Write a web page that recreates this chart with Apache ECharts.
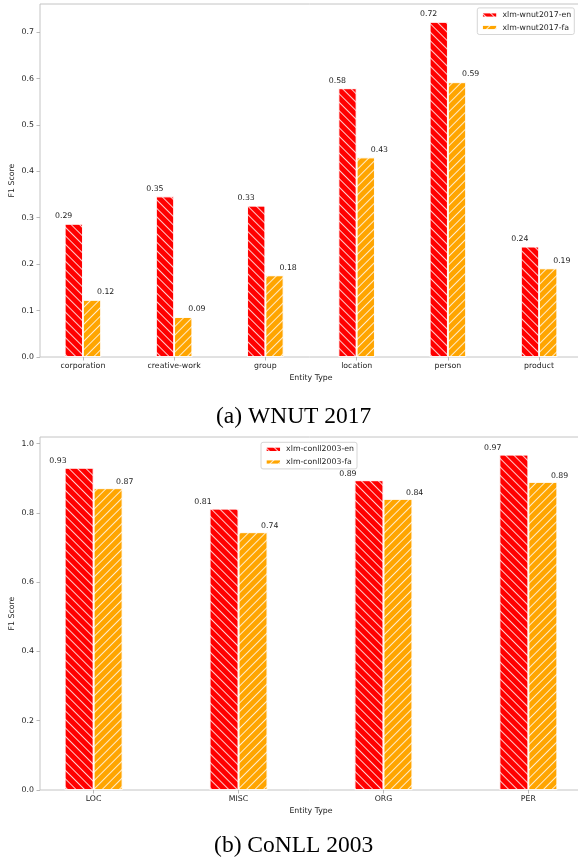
<!DOCTYPE html>
<html>
<head>
<meta charset="utf-8">
<script src="https://cdn.jsdelivr.net/npm/echarts@6/dist/echarts.min.js"></script>
<style>html,body{margin:0;padding:0;background:#fff;}#main{width:578px;height:861px;}</style>
</head>
<body>
<div id="main"></div>
<script>
// ---- DATA ----
const wnutCategories = ['corporation', 'creative-work', 'group', 'location', 'person', 'product'];
const wnutEn = [0.287, 0.346, 0.326, 0.579, 0.722, 0.238];
const wnutFa = [0.123, 0.086, 0.176, 0.430, 0.592, 0.191];
const wnutYTicks = [0.0, 0.1, 0.2, 0.3, 0.4, 0.5, 0.6, 0.7];

const conllCategories = ['LOC', 'MISC', 'ORG', 'PER'];
const conllEn = [0.930, 0.812, 0.894, 0.968];
const conllFa = [0.871, 0.744, 0.840, 0.889];
const conllYTicks = [0.0, 0.2, 0.4, 0.6, 0.8, 1.0];

const seriesNames = {
  wnutEn: 'xlm-wnut2017-en', wnutFa: 'xlm-wnut2017-fa',
  conllEn: 'xlm-conll2003-en', conllFa: 'xlm-conll2003-fa'
};
const captions = ['(a) WNUT 2017', '(b) CoNLL 2003'];

// ---- STYLE ----
const FONT = 'DejaVu Sans';
const FS = 7.8;
const TXT = '#1c1c1c';
const SPINE = '#c4c4c4';
const RED = '#ff0000';
const ORANGE = '#ffa500';

const hatchBack = { symbol: 'rect', symbolSize: 1, color: 'rgba(255,255,255,0.8)', dashArrayX: [1, 0], dashArrayY: [1, 4.2], rotation: Math.PI / 4 };
const hatchFwd  = { symbol: 'rect', symbolSize: 1, color: 'rgba(255,255,255,0.8)', dashArrayX: [1, 0], dashArrayY: [1, 4.2], rotation: -Math.PI / 4 };

const textBase = { fontFamily: FONT, fontSize: FS, color: TXT };

function xAxisFor(gridIndex, cats, min, max) {
  const idx = cats.map((c, i) => i);
  return {
    type: 'value', gridIndex, min, max,
    axisLine: { show: false, onZero: false },
    splitLine: { show: false },
    axisTick: { show: true, length: 3.5, lineStyle: { color: '#a8a8a8', width: 0.8 }, customValues: idx },
    axisLabel: { ...textBase, margin: 4.8, lineHeight: 9.1, customValues: idx, formatter: v => cats[Math.round(v)] },
    name: 'Entity Type', nameLocation: 'middle', nameGap: 16.6, nameMoveOverlap: false,
    nameTextStyle: { ...textBase, lineHeight: 9.1 }
  };
}
function yAxisFor(gridIndex, ticks, max) {
  return {
    type: 'value', gridIndex, min: 0, max,
    axisLine: { show: false, onZero: false },
    splitLine: { show: false },
    axisTick: { show: true, length: 3.5, lineStyle: { color: '#a8a8a8', width: 0.8 }, customValues: ticks },
    axisLabel: { ...textBase, margin: 6, customValues: ticks, formatter: v => v.toFixed(1) },
    name: 'F1 Score', nameLocation: 'middle', nameGap: 23, nameMoveOverlap: false,
    nameTextStyle: { ...textBase, lineHeight: 9.1 }
  };
}
function barSeries(name, vals, axisIdx, color, decal, labelPos, labelOffset) {
  return {
    type: 'bar', name, xAxisIndex: axisIdx, yAxisIndex: axisIdx,
    data: vals.map((v, i) => [i, v]),
    barWidth: '20%', barGap: '0%',
    itemStyle: { color, borderColor: 'rgba(255,255,255,0.9)', borderWidth: 0.8, decal },
    label: {
      show: true, position: labelPos, offset: labelOffset, align: 'center', verticalAlign: 'bottom',
      ...textBase, lineHeight: 9.1,
      formatter: p => p.value[1].toFixed(2)
    },
    emphasis: { disabled: true },
    animation: false
  };
}
function legendFor(names, left, top) {
  return {
    data: names, orient: 'vertical', left, top,
    padding: [2.5, 3, 2.5, 3.5],
    itemWidth: 15.6, itemHeight: 5.5, itemGap: 3.6, icon: 'rect',
    textStyle: { ...textBase, lineHeight: 9 },
    borderColor: '#cccccc', borderWidth: 0.8, borderRadius: 2,
    backgroundColor: 'rgba(255,255,255,0.8)',
    selectedMode: false
  };
}

const gridBase = { left: 40, width: 542, height: 353, show: true, borderColor: SPINE, borderWidth: 1, backgroundColor: 'transparent', containLabel: false, outerBoundsMode: 'none' };

const chart = echarts.init(document.getElementById('main'), null, { renderer: 'canvas', width: 578, height: 861 });
chart.setOption({
  animation: false,
  backgroundColor: '#ffffff',
  grid: [
    { ...gridBase, top: 4 },
    { ...gridBase, top: 437 }
  ],
  xAxis: [
    xAxisFor(0, wnutCategories, -0.47, 5.47),
    xAxisFor(1, conllCategories, -0.37, 3.37)
  ],
  yAxis: [
    yAxisFor(0, wnutYTicks, 0.7605),
    yAxisFor(1, conllYTicks, 1.0188)
  ],
  legend: [
    legendFor([seriesNames.wnutEn, seriesNames.wnutFa], 477.3, 7.9),
    legendFor([seriesNames.conllEn, seriesNames.conllFa], 261, 442.3)
  ],
  series: [
    barSeries(seriesNames.wnutEn, wnutEn, 0, RED, hatchBack, [-1, -3.2], [0, 0]),
    barSeries(seriesNames.wnutFa, wnutFa, 0, ORANGE, hatchFwd, ['100%', -3.2], [4.5, 0]),
    barSeries(seriesNames.conllEn, conllEn, 1, RED, hatchBack, [-6.6, -1.8], [0, 0]),
    barSeries(seriesNames.conllFa, conllFa, 1, ORANGE, hatchFwd, ['100%', -1.8], [2.2, 0])
  ],
  graphic: [
    { type: 'text', x: 293.7, y: 417.1, style: { text: captions[0], font: '23.5px "Liberation Serif"', fill: '#000', align: 'center', verticalAlign: 'middle' } },
    { type: 'text', x: 293.7, y: 846.1, style: { text: captions[1], font: '23.5px "Liberation Serif"', fill: '#000', align: 'center', verticalAlign: 'middle' } }
  ]
});
</script>
</body>
</html>
